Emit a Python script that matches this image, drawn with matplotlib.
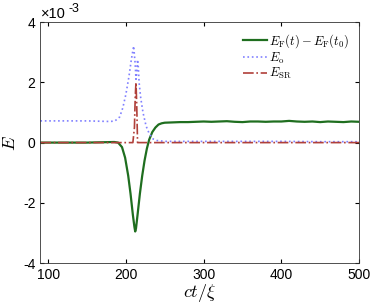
import matplotlib.pyplot as plt

plt.rcParams['mathtext.fontset'] = 'cm'
plt.rcParams['font.family'] = ['Liberation Sans', 'DejaVu Sans']
plt.rcParams['axes.unicode_minus'] = False

# Data (energies in units of 1e-3)
t_f = [90, 150, 185, 190, 195, 199, 203, 206, 209, 211, 212, 213, 215, 218, 221, 224, 227, 230,
       234, 238, 242, 246, 250, 260, 270, 280, 290, 300, 310, 320, 330, 340, 350, 360, 370,
       380, 390, 400, 410, 420, 430, 440, 450, 460, 470, 480, 490, 500]
e_f = [0.0, 0.0, 0.02, 0.0, -0.15, -0.5, -1.1, -1.7, -2.4, -2.8, -2.95, -2.85, -2.4, -1.7, -1.1,
       -0.6, -0.2, 0.1, 0.35, 0.5, 0.6, 0.64, 0.66, 0.67, 0.68, 0.68, 0.69, 0.7, 0.69, 0.7, 0.71,
       0.69, 0.68, 0.7, 0.7, 0.69, 0.7, 0.7, 0.72, 0.7, 0.69, 0.7, 0.68, 0.7, 0.69, 0.68, 0.7, 0.69]

t_o = [90, 150, 180, 186, 192, 196, 200, 204, 207, 210, 212, 213, 214, 215, 216, 217, 219,
       222, 226, 230, 235, 240, 250, 300, 350, 400, 450, 500]
e_o = [0.72, 0.72, 0.7, 0.72, 0.85, 1.15, 1.6, 2.2, 2.75, 3.2, 2.6, 2.1, 2.3, 2.75, 2.5, 2.0,
       1.5, 1.0, 0.55, 0.3, 0.12, 0.07, 0.04, 0.04, 0.04, 0.04, 0.03, 0.03]

t_sr = [90, 209, 211, 212, 213, 214, 215, 500]
e_sr = [0.0, 0.0, 0.5, 1.5, 2.0, 1.2, 0.0, 0.0]

fig, ax = plt.subplots(figsize=(3.74, 3.06), dpi=100)
fig.subplots_adjust(left=0.108, right=0.96, top=0.928, bottom=0.14)

ax.plot(t_f, e_f, color='#1f6e1f', lw=1.6, label=r'$E_{\rm F}(t)-E_{\rm F}(t_0)$')
ax.plot(t_o, e_o, color='#8080ff', lw=1.2, ls=':', label=r'$E_{\rm o}$')
ax.plot(t_sr, e_sr, color='#b0403a', lw=1.2, ls='-.', label=r'$E_{\rm SR}$')

ax.set_xlim(90, 500)
ax.set_ylim(-4, 4)
ax.set_xticks([100, 200, 300, 400, 500])
ax.set_yticks([-4, -2, 0, 2, 4])
ax.tick_params(direction='in', top=True, right=True, labelsize=10, length=3)
ax.set_xlabel(r'$ct/\xi$', fontsize=13, labelpad=0)
ax.set_ylabel(r'$E$', fontsize=13, labelpad=3)
ax.text(0.003, 1.005, '×10', transform=ax.transAxes, fontsize=10.5,
        va='bottom', ha='left')
ax.text(0.088, 1.03, '-3', transform=ax.transAxes, fontsize=9,
        va='bottom', ha='left')
for s in ax.spines.values():
    s.set_linewidth(0.6)
    s.set_color('#333333')

leg = ax.legend(loc='upper right', frameon=False, fontsize=9, handlelength=1.9,
                handletextpad=0.15, labelspacing=0.05, borderaxespad=0.4)

fig.savefig('out.png', dpi=100)
